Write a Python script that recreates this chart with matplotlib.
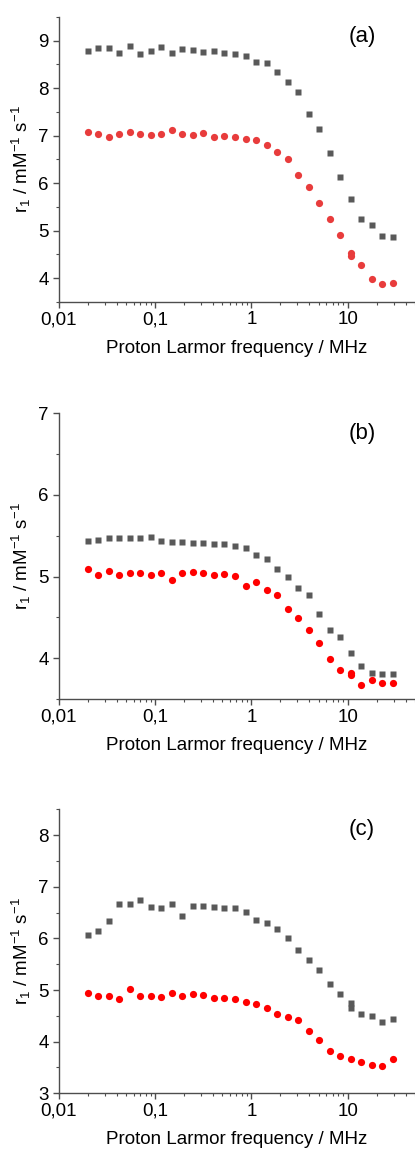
import numpy as np
import matplotlib.pyplot as plt
from matplotlib.ticker import LogLocator, FixedLocator, MultipleLocator, FuncFormatter

plt.rcParams['font.family'] = ['Liberation Sans', 'DejaVu Sans']
plt.rcParams['mathtext.fontset'] = 'custom'
plt.rcParams['mathtext.rm'] = 'Liberation Sans'
plt.rcParams['mathtext.it'] = 'Liberation Sans:italic'

# Proton Larmor frequencies (MHz)
freq = [0.02, 0.0257, 0.033, 0.0425, 0.0547, 0.0703, 0.0904, 0.116, 0.15, 0.192,
        0.247, 0.318, 0.409, 0.526, 0.677, 0.87, 1.12, 1.44, 1.85, 2.38,
        3.06, 3.94, 5.06, 6.51, 8.37, 10.8, 13.8, 17.8, 22.9, 29.5]

# panel (a)
a_gray = [8.78, 8.84, 8.85, 8.75, 8.88, 8.72, 8.78, 8.86, 8.75, 8.82,
          8.81, 8.76, 8.79, 8.74, 8.71, 8.68, 8.55, 8.54, 8.35, 8.12,
          7.92, 7.45, 7.15, 6.63, 6.12, 5.67, 5.25, 5.11, 4.89, 4.86]
a_red = [7.07, 7.04, 6.97, 7.03, 7.07, 7.04, 7.02, 7.03, 7.11, 7.04,
         7.01, 7.05, 6.98, 6.99, 6.98, 6.92, 6.91, 6.81, 6.66, 6.50,
         6.17, 5.91, 5.58, 5.25, 4.90, 4.47, 4.28, 3.98, 3.88, 3.89]
a_red_extra = [4.52]

# panel (b)
b_gray = [5.43, 5.45, 5.47, 5.47, 5.47, 5.47, 5.49, 5.44, 5.42, 5.42,
          5.41, 5.41, 5.40, 5.40, 5.37, 5.35, 5.27, 5.22, 5.09, 4.99,
          4.86, 4.77, 4.54, 4.35, 4.26, 4.07, 3.91, 3.82, 3.81, 3.81]
b_red = [5.09, 5.02, 5.07, 5.02, 5.05, 5.05, 5.02, 5.05, 4.96, 5.04,
         5.06, 5.05, 5.02, 5.03, 5.01, 4.88, 4.93, 4.83, 4.77, 4.60,
         4.49, 4.34, 4.19, 3.99, 3.86, 3.82, 3.67, 3.73, 3.70, 3.70]
b_red_extra = [3.79]

# panel (c)
c_gray = [6.06, 6.15, 6.33, 6.66, 6.67, 6.75, 6.61, 6.58, 6.67, 6.43,
          6.63, 6.63, 6.61, 6.59, 6.59, 6.51, 6.36, 6.30, 6.18, 6.01,
          5.77, 5.58, 5.39, 5.12, 4.92, 4.74, 4.54, 4.49, 4.39, 4.44]
c_gray_extra = [4.66]
c_red = [4.94, 4.88, 4.88, 4.83, 5.02, 4.88, 4.88, 4.87, 4.94, 4.89,
         4.93, 4.90, 4.85, 4.84, 4.83, 4.76, 4.72, 4.66, 4.54, 4.47,
         4.41, 4.21, 4.04, 3.82, 3.72, 3.67, 3.61, 3.54, 3.52, 3.67]

extra_x = [10.8]

panels = [
    ('(a)', a_gray, [], a_red, a_red_extra, '#e83c3c', (3.5, 9.5), [4, 5, 6, 7, 8, 9]),
    ('(b)', b_gray, [], b_red, b_red_extra, '#ff0000', (3.5, 7.0), [4, 5, 6, 7]),
    ('(c)', c_gray, c_gray_extra, c_red, [], '#ff0000', (3.0, 8.5), [3, 4, 5, 6, 7, 8]),
]
positions = [(0.7374, 0.2478), (0.3916, 0.2487), (0.0485, 0.2471)]

fig = plt.figure(figsize=(4.15, 11.49), dpi=100)
spine_col = '#4d4d4d'

for (lab, gray, gray_x, red, red_x, rcol, ylim, yt), (bot, h) in zip(panels, positions):
    ax = fig.add_axes([0.1414, bot, 0.8586, h])
    ax.plot(freq, gray, 's', color='#595959', ms=4.4, mec='none')
    if gray_x:
        ax.plot(extra_x, gray_x, 's', color='#595959', ms=4.4, mec='none')
    ax.plot(freq, red, 'o', color=rcol, ms=5.2, mec='none')
    if red_x:
        ax.plot(extra_x, red_x, 'o', color=rcol, ms=5.2, mec='none')

    ax.set_xscale('log')
    ax.set_xlim(0.01, 50)
    ax.set_ylim(*ylim)
    ax.xaxis.set_major_locator(FixedLocator([0.01, 0.1, 1, 10]))
    ax.xaxis.set_minor_locator(LogLocator(base=10, subs=np.arange(2, 10)))
    ax.xaxis.set_major_formatter(FuncFormatter(lambda v, p: ('%g' % v).replace('.', ',')))
    ax.xaxis.set_minor_formatter(FuncFormatter(lambda v, p: ''))
    ax.yaxis.set_major_locator(FixedLocator(yt))
    ax.yaxis.set_minor_locator(MultipleLocator(0.5))

    for s in ['top', 'right']:
        ax.spines[s].set_visible(False)
    for s in ['left', 'bottom']:
        ax.spines[s].set_color(spine_col)
        ax.spines[s].set_linewidth(1.0)
    ax.tick_params(which='major', direction='out', length=4, width=1.0,
                   color=spine_col, labelsize=13.5, pad=3)
    ax.tick_params(which='minor', direction='out', length=2.5, width=0.8,
                   color=spine_col)

    ax.set_xlabel('Proton Larmor frequency / MHz', fontsize=13.5, labelpad=8)
    ax.set_ylabel('r$_1$ / mM$^{\\mathrm{-1}}$ s$^{\\mathrm{-1}}$', fontsize=13.5, labelpad=4)
    ax.text(0.851, 0.93, lab, transform=ax.transAxes, fontsize=16,
            ha='center', va='center')

fig.savefig('out.png', dpi=100)
